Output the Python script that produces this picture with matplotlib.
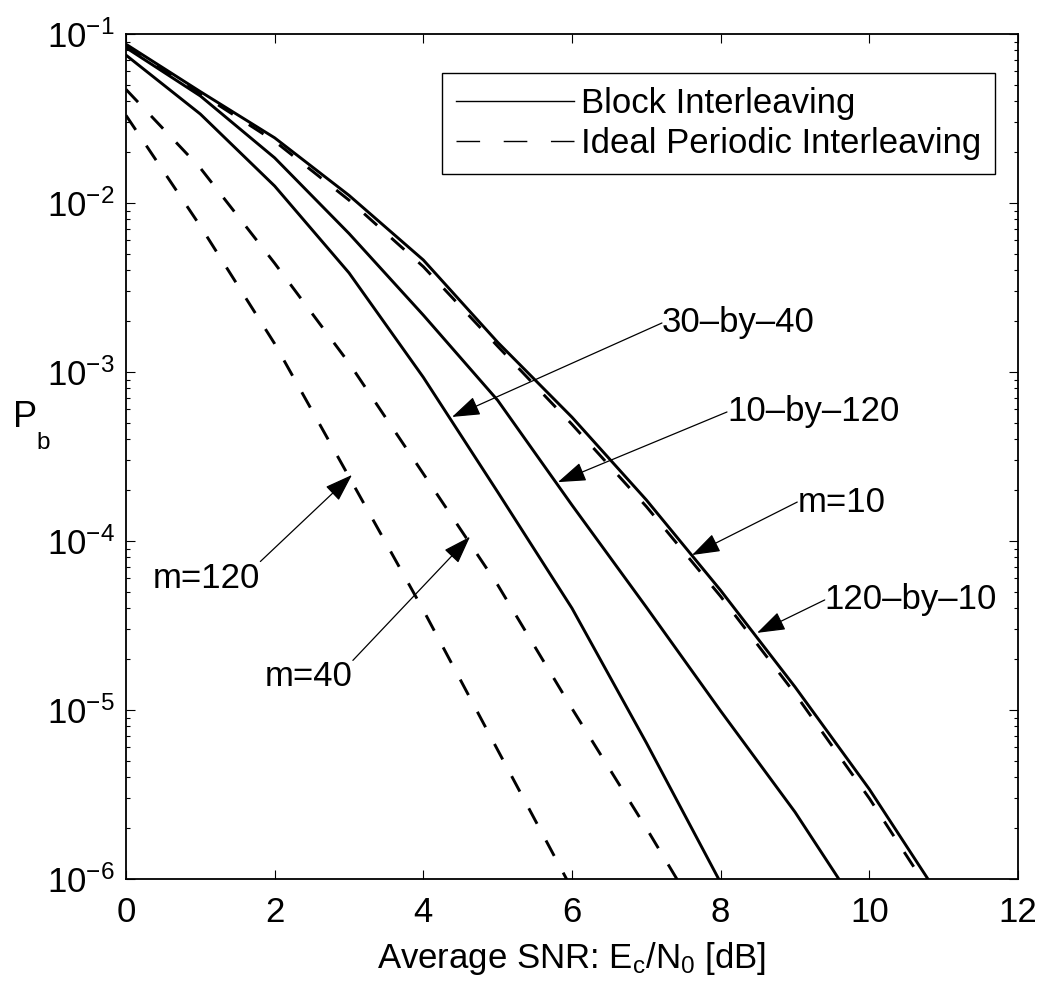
import numpy as np
import matplotlib
matplotlib.use("Agg")
import matplotlib.pyplot as plt
from matplotlib.lines import Line2D
from matplotlib.ticker import LogLocator, NullFormatter, FixedLocator

# ---------------- data ----------------
snr = [0, 1, 2, 3, 4, 5, 6, 7, 8, 9, 10, 11]

# block interleaving (solid)
block_30x40 = [0.075, 0.0336, 0.0126, 3.86e-3, 9.3e-4, 1.95e-4, 4.0e-5, 6.4e-6, 9.5e-7]
block_10x120 = [0.083, 0.043, 0.0185, 6.6e-3, 2.17e-3, 6.8e-4, 1.63e-4, 4.06e-5, 9.86e-6, 2.49e-6, 5.3e-7]
block_120x10 = [0.087, 0.0456, 0.0243, 0.0111, 0.0046, 1.5e-3, 5.4e-4, 1.75e-4, 5.1e-5, 1.37e-5, 3.4e-6, 7.2e-7]

# ideal periodic interleaving (dashed)
ideal_m120 = [0.033, 7.3e-3, 1.47e-3, 2.4e-4, 3.9e-5, 5.8e-6, 8.7e-7]
ideal_m40 = [0.047, 0.0161, 4.4e-3, 1.13e-3, 2.5e-4, 5.5e-5, 1.02e-5, 2.0e-6, 3.7e-7]
ideal_m10 = [0.085, 0.0445, 0.0232, 0.0104, 0.0042, 1.42e-3, 4.9e-4, 1.6e-4, 4.7e-5, 1.25e-5, 3.0e-6, 6.3e-7]

# annotations: label, arrow tip (snr, Pb), text anchor (snr, Pb), relpos
notes = [
    ("30\u2013by\u201340", (4.386, 5.42e-4), (7.21, 1.95e-3), (0, 0.5)),
    ("10\u2013by\u2013120", (5.81, 2.23e-4), (8.085, 5.8e-4), (0, 0.5)),
    ("m=10", (7.615, 8.26e-5), (9.03, 1.70e-4), (0, 0.5)),
    ("120\u2013by\u201310", (8.49, 2.86e-5), (9.40, 4.48e-5), (0, 0.5)),
    ("m=120", (3.04, 2.46e-4), (0.363, 6.04e-5), (1, 1)),
    ("m=40", (4.628, 1.06e-4), (1.87, 1.57e-5), (1, 1)),
]

# ---------------- style ----------------
plt.rcParams["font.family"] = ["Liberation Sans", "DejaVu Sans"]
plt.rcParams["mathtext.fontset"] = "custom"
plt.rcParams["mathtext.rm"] = "Liberation Sans"
plt.rcParams["mathtext.it"] = "Liberation Sans:italic"
plt.rcParams["mathtext.default"] = "regular"

FS = 25
W, H = 1043, 989

fig = plt.figure(figsize=(W / 100, H / 100), dpi=100)
ax = fig.add_axes([126 / W, 110 / H, 892 / W, 845 / H])

lw = 2.1
dash = (0, (6, 6.5))

ax.semilogy(snr[:len(block_30x40)], block_30x40, "k-", lw=lw)
ax.semilogy(snr[:len(block_10x120)], block_10x120, "k-", lw=lw)
ax.semilogy(snr[:len(block_120x10)], block_120x10, "k-", lw=lw)
ax.semilogy(snr[:len(ideal_m120)], ideal_m120, color="k", ls=dash, lw=lw)
ax.semilogy(snr[:len(ideal_m40)], ideal_m40, color="k", ls=dash, lw=lw)
ax.semilogy(snr[:len(ideal_m10)], ideal_m10, color="k", ls=dash, lw=lw)

ax.set_xlim(0, 12)
ax.set_ylim(1e-6, 1e-1)
ax.xaxis.set_major_locator(FixedLocator([0, 2, 4, 6, 8, 10, 12]))
ax.yaxis.set_major_locator(LogLocator(base=10, numticks=10))
ax.yaxis.set_minor_locator(LogLocator(base=10, subs=np.arange(2, 10), numticks=20))
ax.yaxis.set_minor_formatter(NullFormatter())

ax.tick_params(which="both", direction="in", top=True, right=True, width=0.8)
ax.tick_params(which="major", length=6.5, labelsize=FS)
ax.tick_params(axis="y", which="major", pad=8)
ax.tick_params(axis="x", which="major", pad=12)
ax.tick_params(which="minor", length=3.2)
for s in ax.spines.values():
    s.set_linewidth(1.3)

ax.set_xlabel("Average SNR: E$_\\mathregular{c}$/N$_\\mathregular{0}$ [dB]", fontsize=FS, labelpad=8)
fig.text(13 / W, 1 - 418 / H, "P", fontsize=FS + 1, ha="left", va="center")
fig.text(36 / W, 1 - 443 / H, "b", fontsize=FS * 0.7, ha="left", va="center")

# annotations with arrows
for label, tip, txt, rp in notes:
    ax.annotate(label, xy=tip, xytext=txt, textcoords="data", fontsize=FS,
                ha="left", va="center",
                arrowprops=dict(arrowstyle="-|>,head_length=0.7,head_width=0.24",
                                color="k", lw=0.9, shrinkA=0, shrinkB=0,
                                relpos=rp, patchA=None))

# legend
handles = [Line2D([], [], color="k", lw=1.0),
           Line2D([], [], color="k", lw=1.0, ls=(0, (17, 17)))]
leg = ax.legend(handles, ["Block Interleaving", "Ideal Periodic Interleaving"],
                loc="upper right", bbox_to_anchor=(995 / W, 1 - 73 / H),
                bbox_transform=fig.transFigure, fontsize=FS, frameon=True,
                fancybox=False, edgecolor="k", framealpha=1, borderaxespad=0,
                borderpad=0.4, labelspacing=0.2, handlelength=3.4,
                handletextpad=0.2)
leg.get_frame().set_linewidth(1.0)

fig.savefig("out.png", dpi=100)
